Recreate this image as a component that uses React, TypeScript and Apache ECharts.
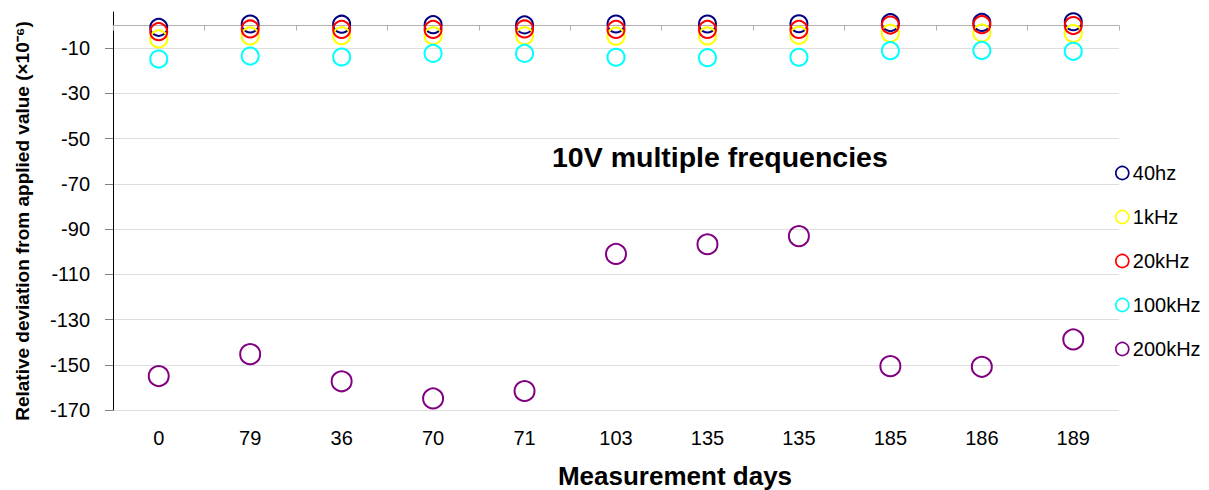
import React, { useEffect, useRef } from "react";
import * as echarts from "echarts";

const days = ["0", "79", "36", "70", "71", "103", "135", "135", "185", "186", "189"];
const hz40 = [-0.8, 0.7, 0.6, 0.4, 0.3, 0.7, 0.7, 0.8, 1.3, 1.4, 1.7];
const khz1 = [-5.9, -4.6, -4.5, -4.5, -4.5, -4.7, -4.6, -4.3, -3.4, -3.3, -3.5];
const khz20 = [-2.7, -1.5, -1.7, -1.7, -1.5, -1.7, -1.7, -1.7, 0.2, 0.4, 0.0];
const khz100 = [-14.8, -13.5, -13.9, -12.3, -12.3, -14.0, -14.2, -14.0, -11.1, -11.0, -11.4];
const khz200 = [-155.0, -145.3, -157.3, -164.9, -161.6, -101.0, -96.7, -93.1, -150.6, -150.9, -138.8];
const yTicks = [-170, -150, -130, -110, -90, -70, -50, -30, -10];
const seriesNames = ["40hz", "1kHz", "20kHz", "100kHz", "200kHz"];
const seriesColors = ["#000080", "#FFFF00", "#FF0000", "#00FFFF", "#800080"];
const seriesData = [hz40, khz1, khz20, khz100, khz200];
const symbolSizes = [17, 17, 17, 17, 20];

const FONT = "'Liberation Sans', Arial, sans-serif";

export default function App() {
  const ref = useRef<HTMLDivElement>(null);
  useEffect(() => {
    if (!ref.current) return;
    const chart = echarts.init(ref.current, undefined, { renderer: "svg" });
    const option: any = {
      animation: false,
      backgroundColor: "#ffffff",
      textStyle: { fontFamily: FONT },
      title: {
        text: "10V multiple frequencies",
        left: 552,
        top: 142,
        padding: 0,
        textStyle: { fontFamily: FONT, fontSize: 28.5, fontWeight: "bold", color: "#000" },
      },
      legend: {
        orient: "vertical",
        left: 1115,
        top: 163,
        padding: 0,
        itemWidth: 13,
        itemHeight: 13,
        itemGap: 24,
        icon: "circle",
        textStyle: { fontFamily: FONT, fontSize: 20, color: "#000", lineHeight: 20, padding: [0, 0, 0, -1] },
        data: seriesNames.map((n, i) => ({
          name: n,
          itemStyle: { color: "transparent", borderColor: seriesColors[i], borderWidth: 1.6 },
        })),
      },
      grid: { left: 113, right: 90, top: 12, bottom: 80, containLabel: false, outerBoundsMode: "none" },
      xAxis: [
        {
          type: "category",
          data: days,
          position: "bottom",
          boundaryGap: true,
          axisLine: { show: true, onZero: true, lineStyle: { color: "#b0b0b0", width: 1 } },
          axisTick: { show: true, length: 5, inside: false, lineStyle: { color: "#b0b0b0" } },
          axisLabel: { show: false },
          splitLine: { show: false },
        },
        {
          type: "category",
          data: days,
          position: "bottom",
          boundaryGap: true,
          axisLine: { show: false, onZero: false },
          axisTick: { show: false },
          axisLabel: { show: true, margin: 18, fontFamily: FONT, fontSize: 20, color: "#000" },
          splitLine: { show: false },
          name: "Measurement days",
          nameLocation: "middle",
          nameGap: 53,
          nameTextStyle: {
            fontFamily: FONT,
            fontSize: 26,
            fontWeight: "bold",
            color: "#000",
            padding: [0, 0, 0, 118],
          },
        },
      ],
      yAxis: {
        type: "value",
        min: -170,
        max: 6,
        interval: 20,
        axisLine: { show: true, lineStyle: { color: "#000", width: 1 } },
        axisTick: { show: true, length: 8, lineStyle: { color: "#808080" }, customValues: yTicks },
        axisLabel: {
          customValues: yTicks,
          margin: 23,
          fontFamily: FONT,
          fontSize: 20,
          color: "#000",
          formatter: (v: number) => (yTicks.indexOf(v) >= 0 ? String(v) : ""),
        },
        splitLine: { show: true, lineStyle: { color: "#dedede", width: 1 } },
        name: "Relative deviation from applied value (×10⁻⁶)",
        nameLocation: "middle",
        nameGap: 81,
        nameTextStyle: {
          fontFamily: FONT,
          fontSize: 19,
          fontWeight: "bold",
          color: "#000",
          padding: [0, 20, 0, 0],
        },
      },
      series: seriesNames.map((n, i) => ({
        name: n,
        type: "scatter",
        xAxisIndex: 0,
        yAxisIndex: 0,
        symbol: "circle",
        symbolSize: symbolSizes[i],
        itemStyle: { color: "transparent", borderColor: seriesColors[i], borderWidth: 2, opacity: 1 },
        emphasis: { disabled: true },
        data: seriesData[i],
      })),
    };
    chart.setOption(option);
    return () => chart.dispose();
  }, []);
  return (
    <div
      ref={ref}
      style={{ position: "fixed", left: 0, top: 0, width: 1209, height: 490, background: "#fff" }}
    />
  );
}
